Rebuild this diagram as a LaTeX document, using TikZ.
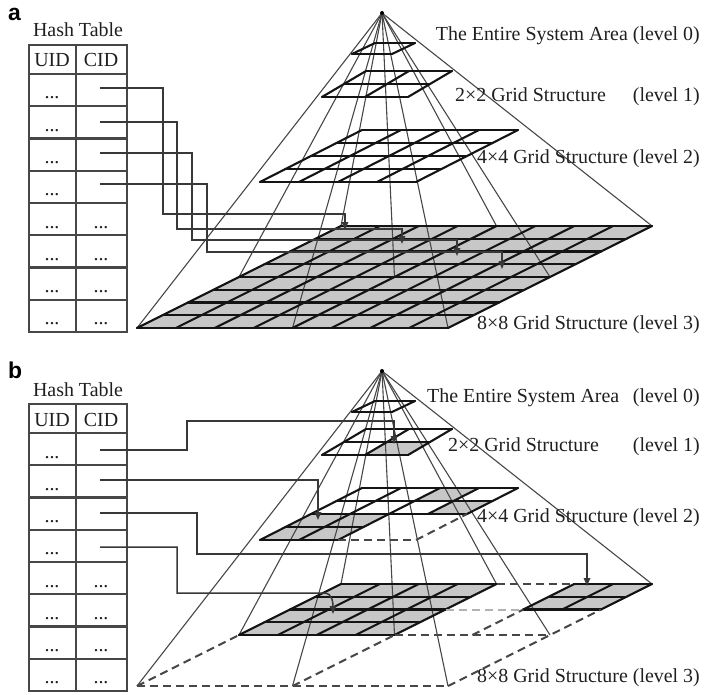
\documentclass[tikz,border=0pt]{standalone}
\usepackage{fontspec}
\setmainfont{Liberation Serif}
\newfontfamily\panelfont{Liberation Sans}
\usetikzlibrary{arrows.meta,calc}

% A grid plane is a parallelogram: front-left corner (\plX,\plY), width \plW,
% back edge shifted right by \plS and up by \plD. (u,v) in [0,1]^2.
\newcommand{\setplane}[5]{\def\plX{#1}\def\plW{#2}\def\plS{#3}\def\plY{#4}\def\plD{#5}}
\newcommand{\PLpt}[2]{({\plX+(#1)*\plW+(#2)*\plS},{\plY-(#2)*\plD})}
\newcommand{\planegrid}[1]{%
  \foreach \k in {0,...,#1}{%
    \draw[gridln] \PLpt{\k/#1}{0} -- \PLpt{\k/#1}{1};
    \draw[gridln] \PLpt{0}{\k/#1} -- \PLpt{1}{\k/#1};
  }}
\newcommand{\planecell}[4]{\fill[cellfill] \PLpt{#1}{#2} -- \PLpt{#3}{#2} -- \PLpt{#3}{#4} -- \PLpt{#1}{#4} -- cycle;}
\newcommand{\planeseg}[5][gridln]{\draw[#1] \PLpt{#2}{#3} -- \PLpt{#4}{#5};}

% Hash table with UID/CID columns; #1 = vertical offset, #2 = name prefix
\newcommand{\hashtable}[2]{%
  \begin{scope}[yshift=-#1bp]
    \node[lbl,anchor=base] (#2title) at (78,37) {Hash Table};
    \draw[tabln] (29,45) rectangle (127,332);
    \draw[tabln] (76,45) -- (76,332);
    \foreach \r in {0,...,7} {\draw[tabln] (29,{74+\r*32.25}) -- (127,{74+\r*32.25});}
    \node[lbl,anchor=base] (#2uid) at (52,67) {UID};
    \node[lbl,anchor=base] (#2cid) at (101,67) {CID};
    \foreach \r in {1,...,8} {\node[lbl,anchor=base] (#2u\r) at (52,{74+(\r-1)*32.25+25}) {...};}
    \foreach \r in {5,...,8} {\node[lbl,anchor=base] (#2c\r) at (101,{74+(\r-1)*32.25+25}) {...};}
  \end{scope}}

\tikzset{
  lbl/.style={font=\fontsize{20}{24}\selectfont, text=black!88, inner sep=0pt},
  panel/.style={font=\panelfont\bfseries\fontsize{23}{26}\selectfont, inner sep=0pt},
  tabln/.style={draw=black!72, line width=2.1bp},
  gridln/.style={draw=black!92, line width=2.1bp, line cap=round},
  cellfill/.style={fill=black!22},
  edge/.style={draw=black!72, line width=1.1bp},
  dashln/.style={draw=black!72, line width=2bp, dash pattern=on 8bp off 5bp},
  lightdash/.style={draw=black!30, line width=2bp, dash pattern=on 8bp off 5bp},
  conn/.style={draw=black!78, line width=1.5bp, -{Triangle[length=8bp,width=6.5bp]}},
}

\begin{document}
\begin{tikzpicture}[x=1bp,y=-1bp]
\useasboundingbox (0,0) rectangle (718,695);

% ================= panel a =================
\node[panel,anchor=base west] (pa) at (8,21) {a};
\hashtable{0}{ta}

\coordinate (apexa) at (382,13);
% base: 8x8 grid, fully shaded
\setplane{137}{311}{204}{328}{102}
\planecell{0}{0}{1}{1}
\foreach \pu/\pv/\n in {0/0/1,.5/0/2,1/0/3,0/.5/4,.5/.5/5,1/.5/6,0/1/7,.5/1/8,1/1/9}
  {\path \PLpt{\pu}{\pv} coordinate (abase\n);}
\foreach \n in {1,...,9} {\draw[edge] (apexa) -- (abase\n);}
\planegrid{8}
% upper levels
\setplane{352}{40}{23}{54}{11}\planegrid{1}
\setplane{322}{86}{44}{97}{26}\planegrid{2}
\setplane{260}{156}{102}{182}{52}\planegrid{4}
\fill (apexa) circle[radius=2bp];

% table entries pointing to level-3 cells
\coordinate (sa1) at (100,88);  \coordinate (ka1) at (163,214); \coordinate (ea1) at (345,230);
\coordinate (sa2) at (100,122); \coordinate (ka2) at (177,229); \coordinate (ea2) at (402,244);
\coordinate (sa3) at (100,153); \coordinate (ka3) at (192,240); \coordinate (ea3) at (457,256);
\coordinate (sa4) at (100,184); \coordinate (ka4) at (207,252); \coordinate (ea4) at (502,269);
\foreach \i in {1,...,4} {\draw[conn] (sa\i) -| (ka\i) -| (ea\i);}

\node[lbl,anchor=base east] (la0) at (700,41) {The Entire System Area (level 0)};
\node[lbl,anchor=base west] (la1) at (455,102) {2×2 Grid Structure};
\node[lbl,anchor=base east] (la1l) at (700,102) {(level 1)};
\node[lbl,anchor=base east] (la2) at (700,163) {4×4 Grid Structure (level 2)};
\node[lbl,anchor=base east] (la3) at (700,329) {8×8 Grid Structure (level 3)};

% ================= panel b =================
\node[panel,anchor=base west] (pb) at (8,378) {b};
\hashtable{359}{tb}

\coordinate (apexb) at (382,371);
% base level: only some quadrants are subdivided
\setplane{137}{311}{204}{686}{102}
\planecell{0}{.5}{.5}{1}
\planecell{.75}{.75}{1}{1}
\foreach \pu/\pv/\n in {0/0/1,.5/0/2,1/0/3,0/.5/4,.5/.5/5,1/.5/6,0/1/7,.5/1/8,1/1/9}
  {\path \PLpt{\pu}{\pv} coordinate (bbase\n);}
% level 1 and level 2 shaded cells
\setplane{322}{86}{44}{455}{26}\planecell{.5}{0}{1}{.5}
\setplane{260}{156}{102}{540}{52}\planecell{0}{0}{.5}{.5}\planecell{.75}{.5}{1}{.75}\planecell{.5}{.75}{.75}{1}
\foreach \n in {1,...,9} {\draw[edge] (apexb) -- (bbase\n);}
\setplane{137}{311}{204}{686}{102}
\foreach \k in {0,...,4}{%
  \planeseg{\k/8}{.5}{\k/8}{1}%
  \planeseg{0}{.5+\k/8}{.5}{.5+\k/8}%
}
\foreach \k in {0,...,2}{%
  \planeseg{.75+\k/8}{.75}{.75+\k/8}{1}%
  \planeseg{.75}{.75+\k/8}{1}{.75+\k/8}%
}
\planeseg[dashln]{0}{0}{1}{0}
\planeseg[dashln]{0}{0}{0}{.5}
\planeseg[dashln]{1}{0}{1}{.75}
\planeseg[dashln]{.5}{.5}{1}{.5}
\planeseg[dashln]{.5}{0}{.5}{.5}
\planeseg[dashln]{.5}{1}{.75}{1}
\planeseg[dashln]{.75}{.5}{.75}{.75}
\planeseg[lightdash]{.5}{.75}{.75}{.75}
% level 0
\setplane{352}{40}{23}{412}{11}\planegrid{1}
% level 1
\setplane{322}{86}{44}{455}{26}\planegrid{2}
% level 2: front-right quadrant not subdivided
\setplane{260}{156}{102}{540}{52}
\foreach \pv in {.5,.75,1} {\planeseg{0}{\pv}{1}{\pv}}
\foreach \pv in {0,.25} {\planeseg{0}{\pv}{.5}{\pv}}
\foreach \pu in {0,.25,.5} {\planeseg{\pu}{0}{\pu}{1}}
\foreach \pu in {.75,1} {\planeseg{\pu}{.5}{\pu}{1}}
\planeseg[dashln]{.5}{0}{1}{0}
\planeseg[dashln]{1}{0}{1}{.5}
\fill (apexb) circle[radius=2bp];

% table entries pointing to cells on different levels
\coordinate (sb1) at (100,450); \coordinate (kb1) at (187,421); \coordinate (eb1) at (394,444);
\coordinate (sb2) at (100,480); \coordinate (eb2) at (318,520);
\coordinate (sb3) at (100,513); \coordinate (kb3) at (197,554); \coordinate (eb3) at (587,586);
\coordinate (sb4) at (100,547); \coordinate (kb4) at (177,593); \coordinate (kb4e) at (324,593);
\coordinate (eb4) at (333,614);
\draw[conn] (sb1) -| (kb1) -| (eb1);
\draw[conn] (sb2) -| (eb2);
\draw[conn] (sb3) -| (kb3) -| (eb3);
\draw[conn] (sb4) -| (kb4) -- (kb4e) .. controls +(9,0) and +(0,-10) .. (eb4);

\node[lbl,anchor=base west] (lb0) at (427,402) {The Entire System Area};
\node[lbl,anchor=base east] (lb0l) at (700,402) {(level 0)};
\node[lbl,anchor=base west] (lb1) at (448,451) {2×2 Grid Structure};
\node[lbl,anchor=base east] (lb1l) at (700,451) {(level 1)};
\node[lbl,anchor=base east] (lb2) at (700,522) {4×4 Grid Structure (level 2)};
\node[lbl,anchor=base west] (lb3) at (477,682) {8×8 Grid Structure};
\node[lbl,anchor=base east] (lb3l) at (700,682) {(level 3)};
\end{tikzpicture}
\end{document}
